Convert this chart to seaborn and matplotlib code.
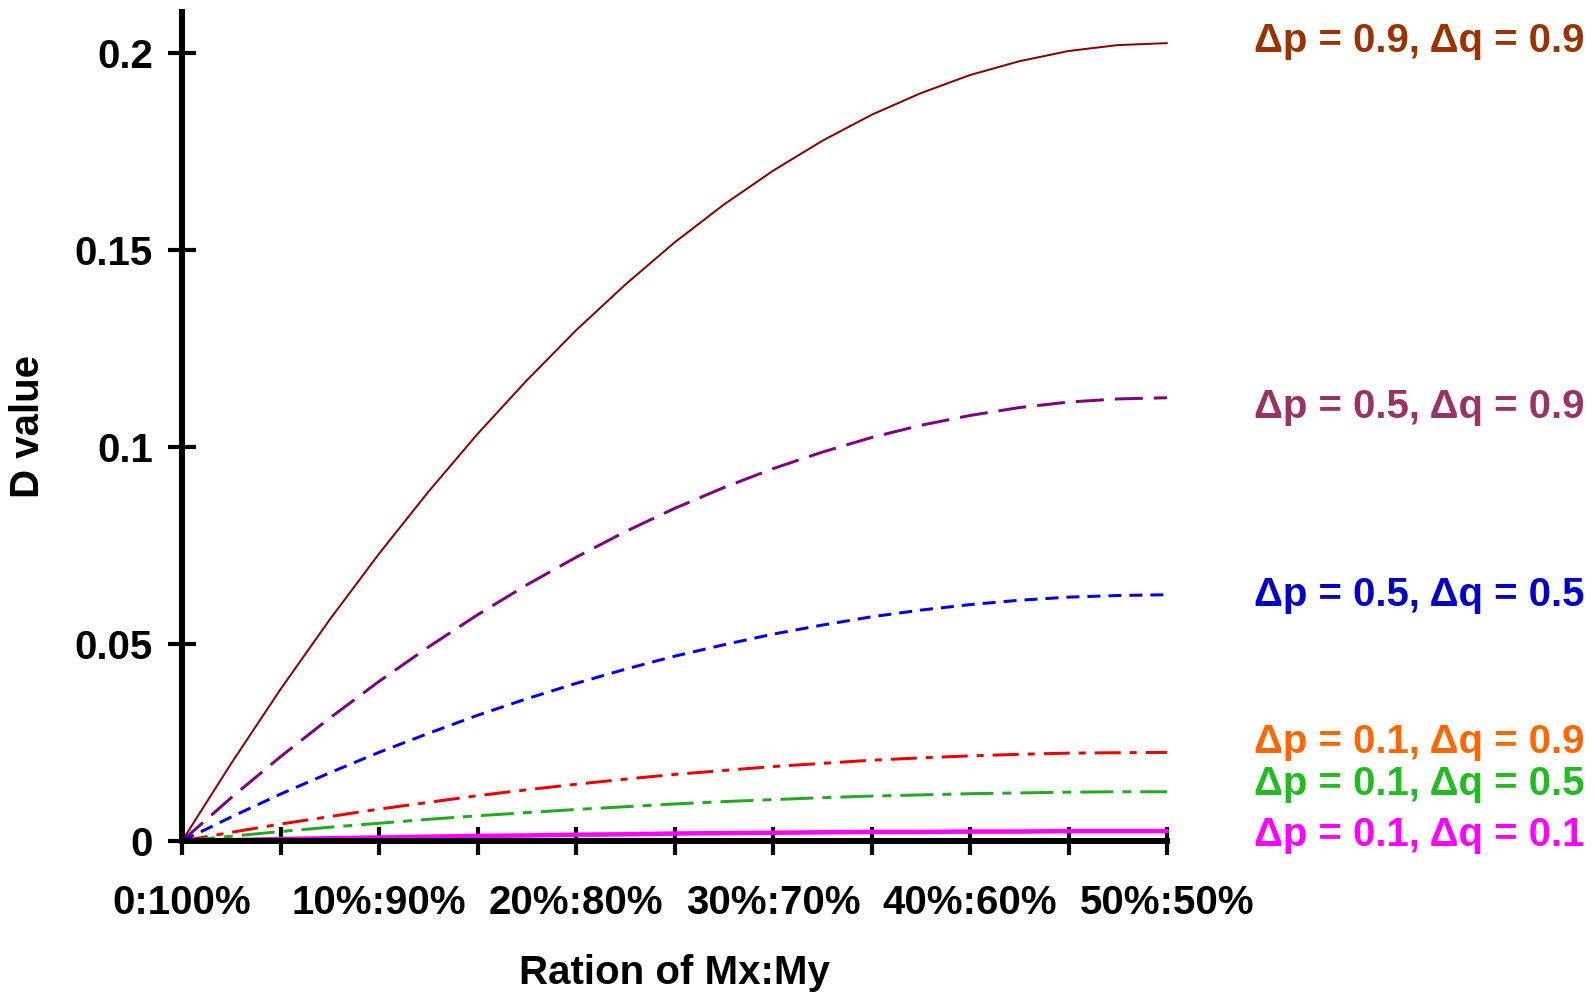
import matplotlib
matplotlib.use("Agg")
import matplotlib.pyplot as plt
import seaborn as sns
import pandas as pd

# ---------------- data ----------------
ratio = [0, 2.5, 5, 7.5, 10, 12.5, 15, 17.5, 20, 22.5, 25,
         27.5, 30, 32.5, 35, 37.5, 40, 42.5, 45, 47.5, 50]

d_p09_q09 = [0, 0.0197, 0.0385, 0.0562, 0.0729, 0.0886, 0.1033, 0.1169, 0.1296, 0.1412, 0.1519,
             0.1615, 0.1701, 0.1777, 0.1843, 0.1898, 0.1944, 0.1979, 0.2005, 0.2020, 0.2025]
d_p05_q09 = [0, 0.0110, 0.0214, 0.0312, 0.0405, 0.0492, 0.0574, 0.0650, 0.0720, 0.0785, 0.0844,
             0.0897, 0.0945, 0.0987, 0.1024, 0.1055, 0.1080, 0.1100, 0.1114, 0.1122, 0.1125]
d_p05_q05 = [0, 0.0061, 0.0119, 0.0173, 0.0225, 0.0273, 0.0319, 0.0361, 0.0400, 0.0436, 0.0469,
             0.0498, 0.0525, 0.0548, 0.0569, 0.0586, 0.0600, 0.0611, 0.0619, 0.0623, 0.0625]
d_p01_q09 = [0, 0.0022, 0.0043, 0.0062, 0.0081, 0.0098, 0.0115, 0.0130, 0.0144, 0.0157, 0.0169,
             0.0179, 0.0189, 0.0197, 0.0205, 0.0211, 0.0216, 0.0220, 0.0223, 0.0224, 0.0225]
d_p01_q05 = [0, 0.0012, 0.0024, 0.0035, 0.0045, 0.0055, 0.0064, 0.0072, 0.0080, 0.0087, 0.0094,
             0.0100, 0.0105, 0.0110, 0.0114, 0.0117, 0.0120, 0.0122, 0.0124, 0.0125, 0.0125]
d_p01_q01 = [0, 0.0002, 0.0005, 0.0007, 0.0009, 0.0011, 0.0013, 0.0014, 0.0016, 0.0017, 0.0019,
             0.0020, 0.0021, 0.0022, 0.0023, 0.0023, 0.0024, 0.0024, 0.0025, 0.0025, 0.0025]

series_names = ["Δp = 0.9, Δq = 0.9", "Δp = 0.5, Δq = 0.9", "Δp = 0.5, Δq = 0.5",
                "Δp = 0.1, Δq = 0.9", "Δp = 0.1, Δq = 0.5", "Δp = 0.1, Δq = 0.1"]
series_values = [d_p09_q09, d_p05_q09, d_p05_q05, d_p01_q09, d_p01_q05, d_p01_q01]

x_tick_values = [0, 10, 20, 30, 40, 50]
x_tick_labels = ["0:100%", "10%:90%", "20%:80%", "30%:70%", "40%:60%", "50%:50%"]
x_minor_ticks = [5, 15, 25, 35, 45]
y_tick_values = [0, 0.05, 0.1, 0.15, 0.2]
y_tick_labels = ["0", "0.05", "0.1", "0.15", "0.2"]

# ---------------- styles ----------------
PX = 1 / 1.3889  # pixels -> points at dpi 100
line_colors = ["#8b0000", "#800080", "#0000ee", "#ee0000", "#22aa22", "#ff00ff"]
line_widths = [2.0 * PX, 3.0 * PX, 3.0 * PX, 3.0 * PX, 3.0 * PX, 4.5 * PX]
line_styles = ["-",
               (0, (28 * PX, 11 * PX)),
               (0, (13 * PX, 8 * PX)),
               (0, (26 * PX, 9 * PX, 7 * PX, 9 * PX)),
               (0, (33 * PX, 9 * PX, 9 * PX, 9 * PX)),
               "-"]
label_colors = ["#993300", "#993366", "#0000cc", "#ff6600", "#22bb22", "#ff00ff"]
label_baselines_px = [52, 418, 606, 753, 795, 846]

sns.set_style("white")
plt.rcParams["font.family"] = ["Liberation Sans", "DejaVu Sans"]
plt.rcParams["font.weight"] = "bold"
plt.rcParams["lines.scale_dashes"] = False
plt.rcParams["text.color"] = "black"
plt.rcParams["axes.labelcolor"] = "black"
plt.rcParams["xtick.color"] = "black"
plt.rcParams["ytick.color"] = "black"

W, H = 1595, 994
fig = plt.figure(figsize=(W / 100, H / 100), dpi=100)
ax = fig.add_axes([182 / W, 1 - 841 / H, (1167 - 182) / W, (841 - 12) / H])

for name, vals, c, lw, ls in zip(series_names, series_values, line_colors, line_widths, line_styles):
    df = pd.DataFrame({"ratio": ratio, "D": vals})
    sns.lineplot(data=df, x="ratio", y="D", ax=ax, color=c, linewidth=lw,
                 linestyle=ls, clip_on=False)

ax.set_xlim(0, 50)
ax.set_ylim(0, 0.2104)

ax.set_xticks(x_tick_values)
ax.set_xticklabels(x_tick_labels)
ax.set_xticks(x_minor_ticks, minor=True)
ax.set_yticks(y_tick_values)
ax.set_yticklabels(y_tick_labels)

for side in ["top", "right"]:
    ax.spines[side].set_visible(False)
for side in ["left", "bottom"]:
    ax.spines[side].set_linewidth(6 * PX)
    ax.spines[side].set_color("black")

ax.tick_params(axis="both", which="both", direction="inout", length=20, width=3,
               color="black", labelcolor="black", labelsize=29,
               bottom=True, left=True, top=False, right=False)
ax.tick_params(axis="x", which="both", pad=21)
ax.tick_params(axis="y", which="both", pad=11)
for lab in ax.get_xticklabels() + ax.get_yticklabels():
    lab.set_fontweight("bold")
    lab.set_color("black")

ax.set_xlabel("Ration of Mx:My", fontsize=29, fontweight="bold", va="baseline", color="black")
ax.xaxis.set_label_coords(0.5, (841 - 984) / 829)
ax.set_ylabel("D value", fontsize=29, fontweight="bold", color="black")
ax.yaxis.set_label_coords((47 - 182) / 985, 0.5)

for name, c, yb in zip(series_names, label_colors, label_baselines_px):
    fig.text(1254 / W, 1 - yb / H, name, color=c, fontsize=29, fontweight="bold",
             ha="left", va="baseline")

fig.savefig("out.png", dpi=100, facecolor="white")
